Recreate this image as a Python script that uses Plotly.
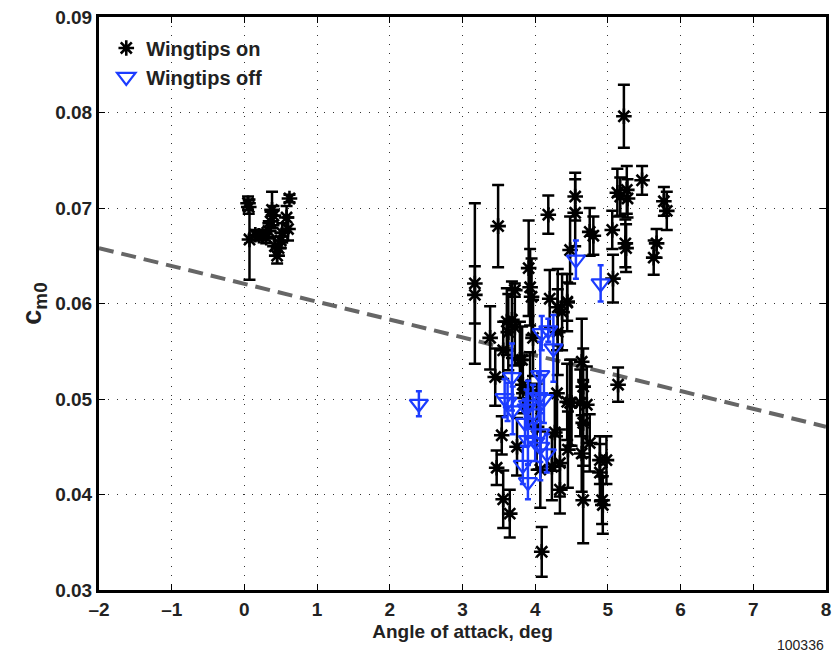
import plotly.graph_objects as go

# Wingtips on: (alpha, cm0, half error)
on_x = [0.05, 0.06, 0.07, 0.15, 0.20, 0.25, 0.30, 0.33, 0.36, 0.38, 0.40, 0.42, 0.45, 0.47, 0.50, 0.52, 0.58, 0.60, 0.62,
        3.17, 3.17, 3.38, 3.45, 3.49, 3.47, 3.54, 3.56, 3.65, 3.56, 3.61, 3.63, 3.68, 3.72, 3.72, 3.75, 3.79, 3.82, 3.83,
        3.91, 3.93, 3.95, 3.93, 3.97, 4.02, 4.07, 4.09, 4.18, 4.20, 4.23, 4.27, 4.30, 4.31, 4.31, 4.34, 4.34, 4.37, 4.44,
        4.44, 4.45, 4.48, 4.48, 4.50, 4.55, 4.55, 4.44, 4.62, 4.64, 4.64, 4.66, 4.66, 4.66, 4.71, 4.75, 4.75, 4.80, 4.89,
        4.89, 4.92, 4.93, 4.98, 5.06, 5.07, 5.14, 5.13, 5.17, 5.22, 5.26, 5.27, 5.24, 5.25, 5.47, 5.63, 5.67, 5.77, 5.81]
on_y = [0.0705, 0.0701, 0.0667, 0.0672, 0.0671, 0.0672, 0.0669, 0.0676, 0.0686, 0.0698, 0.0692, 0.0660, 0.0650, 0.0658,
        0.0666, 0.0674, 0.0690, 0.0678, 0.0710,
        0.0621, 0.0609, 0.0564, 0.0523, 0.0681, 0.0428, 0.0462, 0.0395, 0.0380, 0.0551, 0.0581, 0.0570, 0.0583, 0.0575,
        0.0614, 0.0450, 0.0541, 0.0541, 0.0515, 0.0637, 0.0617, 0.0607, 0.0509, 0.0564, 0.0471, 0.0426, 0.0340, 0.0693,
        0.0605, 0.0429, 0.0465, 0.0506, 0.0570, 0.0596, 0.0405, 0.0433, 0.0591, 0.0601, 0.0497, 0.0447, 0.0496, 0.0656,
        0.0496, 0.0712, 0.0695, 0.0602, 0.0496, 0.0539, 0.0443, 0.0513, 0.0475, 0.0394, 0.0494, 0.0454, 0.0675, 0.0671,
        0.0423, 0.0436, 0.0394, 0.0389, 0.0436, 0.0677, 0.0626, 0.0515, 0.0716, 0.0712, 0.0796, 0.0719, 0.0710, 0.0663,
        0.0658, 0.0729, 0.0648, 0.0663, 0.0707, 0.0697]
on_err = [0.0007, 0.0007, 0.0042, 0.0005, 0.0005, 0.0005, 0.0006, 0.0008, 0.0010, 0.0019, 0.0010, 0.0010, 0.0008,
          0.0008, 0.0008, 0.0010, 0.0012, 0.0012, 0.0004,
          0.0084, 0.0030, 0.0033, 0.0030, 0.0043, 0.0018, 0.0020, 0.0030, 0.0025, 0.0030, 0.0035, 0.0040, 0.0040,
          0.0040, 0.0007, 0.0030, 0.0040, 0.0035, 0.0030, 0.0050, 0.0040, 0.0040, 0.0040, 0.0040, 0.0045, 0.0040,
          0.0026, 0.0020, 0.0030, 0.0035, 0.0040, 0.0045, 0.0045, 0.0040, 0.0025, 0.0035, 0.0040, 0.0030, 0.0040,
          0.0040, 0.0045, 0.0035, 0.0045, 0.0025, 0.0035, 0.0020, 0.0035, 0.0045, 0.0040, 0.0040, 0.0045, 0.0045,
          0.0040, 0.0030, 0.0025, 0.0020, 0.0030, 0.0025, 0.0025, 0.0030, 0.0025, 0.0020, 0.0025, 0.0018, 0.0025,
          0.0020, 0.0033, 0.0025, 0.0020, 0.0025, 0.0025, 0.0015, 0.0018, 0.0015, 0.0015, 0.0020]

# Wingtips off
off_x = [2.40, 3.58, 3.62, 3.68, 3.69, 3.83, 3.86, 3.88, 3.90, 3.90, 3.90, 3.97, 4.00, 4.05, 4.07, 4.07, 4.07, 4.09,
         4.12, 4.16, 4.18, 4.25, 4.56, 4.90]
off_y = [0.0495, 0.0501, 0.0497, 0.0523, 0.0488, 0.0431, 0.0475, 0.0490, 0.0494, 0.0457, 0.0413, 0.0485, 0.0455,
         0.0502, 0.0525, 0.0464, 0.0450, 0.0569, 0.0500, 0.0443, 0.0572, 0.0553, 0.0646, 0.0621]
off_err = [0.0013, 0.0020, 0.0020, 0.0035, 0.0025, 0.0020, 0.0025, 0.0020, 0.0025, 0.0025, 0.0018, 0.0030, 0.0020,
           0.0025, 0.0035, 0.0030, 0.0035, 0.0018, 0.0025, 0.0020, 0.0012, 0.0035, 0.0020, 0.0019]

# Fit line
fit_x = [-2, 8]
fit_y = [0.0658, 0.0471]

x_ticks = [-2, -1, 0, 1, 2, 3, 4, 5, 6, 7, 8]
x_labels = ["\u20132", "\u20131", "0", "1", "2", "3", "4", "5", "6", "7", "8"]
y_ticks = [0.03, 0.04, 0.05, 0.06, 0.07, 0.08, 0.09]

FONT = "Liberation Sans, Arial, sans-serif"

fig = go.Figure()
fig.add_trace(go.Scatter(
    x=fit_x, y=fit_y, mode="lines", showlegend=False,
    line=dict(color="#666666", width=4, dash="15px,8px"), hoverinfo="skip"))
fig.add_trace(go.Scatter(
    x=on_x, y=on_y, mode="markers", name="Wingtips on",
    marker=dict(symbol="asterisk-open", size=13, color="black", line=dict(color="black", width=2.6)),
    error_y=dict(type="data", array=on_err, visible=True, color="black", thickness=2.5, width=6)))
fig.add_trace(go.Scatter(
    x=off_x, y=off_y, mode="markers", name="Wingtips off",
    marker=dict(symbol="triangle-down-open", size=16, color="#1c3cff", line=dict(color="#1c3cff", width=2.2)),
    error_y=dict(type="data", array=off_err, visible=True, color="#1c3cff", thickness=2.5, width=3)))

axis_common = dict(
    showline=True, linecolor="black", linewidth=3, mirror="ticks",
    ticks="inside", ticklen=6, tickwidth=1, tickcolor="black",
    showgrid=True, gridcolor="#333333", gridwidth=1, griddash="1px,8px",
    zeroline=False, automargin=False,
    tickfont=dict(family=FONT, size=19, color="#222222", weight="bold"),
)
fig.update_xaxes(range=[-2, 8], tickvals=x_ticks, ticktext=x_labels,
                 title=dict(text="Angle of attack, deg", font=dict(family=FONT, size=19, color="#222222", weight="bold"),
                            standoff=6),
                 **axis_common)
fig.update_yaxes(range=[0.03, 0.09], tickvals=y_ticks, tickformat=".2f",
                 title=dict(text="c<sub>m0</sub>", font=dict(family=FONT, size=27, color="#222222", weight="bold"),
                            standoff=6),
                 **axis_common)

fig.add_annotation(text="100336", xref="paper", yref="paper", x=1.0, y=-0.096, xanchor="right", yanchor="middle",
                   showarrow=False, font=dict(family=FONT, size=14, color="#222222"))

fig.update_layout(
    width=835, height=665,
    margin=dict(l=99, r=9, t=17, b=75),
    paper_bgcolor="white", plot_bgcolor="white",
    showlegend=True,
    legend=dict(x=0.01, y=0.98, xanchor="left", yanchor="top", bgcolor="rgba(0,0,0,0)",
                font=dict(family=FONT, size=20, color="#222222", weight="bold"), tracegroupgap=0,
                itemwidth=30),
)
fig.write_html("out.html")
